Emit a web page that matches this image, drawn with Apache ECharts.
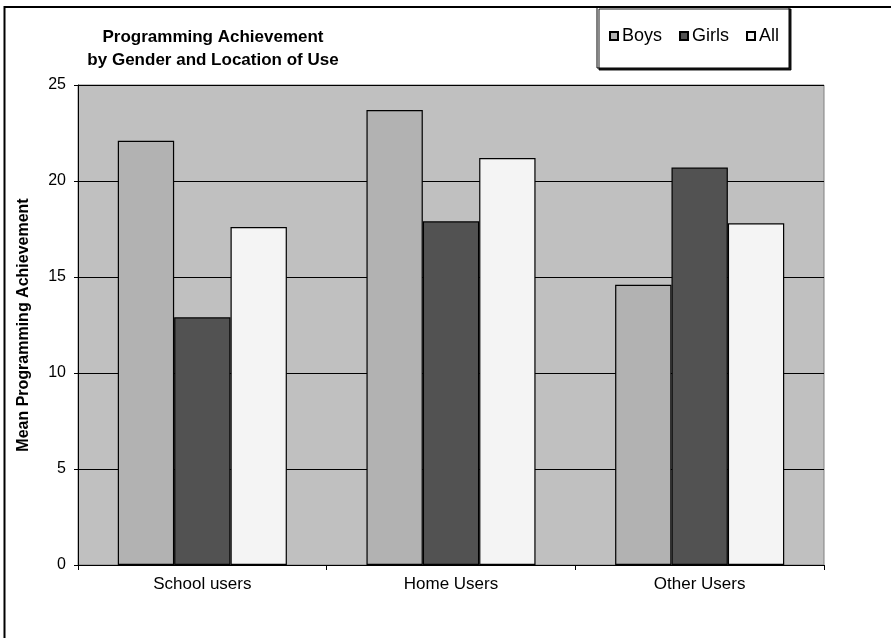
<!DOCTYPE html>
<html>
<head>
<meta charset="utf-8">
<script src="https://cdn.jsdelivr.net/npm/echarts@6/dist/echarts.min.js"></script>
<style>
html,body{margin:0;padding:0;background:#fff;}
#chart{width:891px;height:638px;}
</style>
</head>
<body>
<div id="chart"></div>
<script>
var categories = ["School users", "Home Users", "Other Users"];
var boys = [22.1, 23.7, 14.6];
var girls = [12.9, 17.9, 20.7];
var all = [17.6, 21.2, 17.8];
var seriesNames = ["Boys", "Girls", "All"];
var yTicks = [0, 5, 10, 15, 20, 25];

var chart = echarts.init(document.getElementById('chart'), null, {renderer: 'canvas'});
var font = '"Liberation Sans", Arial, sans-serif';
function bar(name, data, color) {
  return {
    name: name, type: 'bar', data: data,
    barGap: '0%', barCategoryGap: '32%',
    itemStyle: {color: color, borderColor: '#000', borderWidth: 1.2},
    emphasis: {disabled: true}
  };
}
chart.setOption({
  animation: false,
  backgroundColor: '#fff',
  textStyle: {fontFamily: font},
  graphic: [
    {type: 'polyline', shape: {points: [[4.5, 640], [4.5, 7], [892, 7]]},
     style: {stroke: '#000', lineWidth: 2, fill: null}, z: 100}
  ],
  title: {
    text: 'Programming Achievement\nby Gender and Location of Use',
    left: 208, top: 21, textAlign: 'center',
    textStyle: {fontFamily: font, fontSize: 17, fontWeight: 'bold', color: '#000', lineHeight: 23}
  },
  legend: {
    data: seriesNames,
    left: 597, top: 7,
    padding: [20, 10, 23, 12],
    itemWidth: 8, itemHeight: 8, itemGap: 17,
    icon: 'rect',
    backgroundColor: '#fff',
    borderColor: '#000', borderWidth: 1,
    shadowColor: 'rgba(0,0,0,0.9)', shadowOffsetX: 2, shadowOffsetY: 2, shadowBlur: 0,
    textStyle: {fontFamily: font, fontSize: 18, color: '#000', padding: [0, 0, 0, -1]}
  },
  grid: {
    left: 78, right: 67, top: 85, bottom: 73,
    show: true, backgroundColor: '#c0c0c0', borderColor: '#808080', borderWidth: 1
  },
  xAxis: {
    type: 'category', data: categories,
    axisLine: {lineStyle: {color: '#000', width: 1}},
    axisTick: {show: true, length: 5, lineStyle: {color: '#000'}},
    axisLabel: {fontFamily: font, fontSize: 17, color: '#000', margin: 11}
  },
  yAxis: {
    type: 'value', min: yTicks[0], max: yTicks[yTicks.length - 1], interval: 5,
    name: 'Mean Programming Achievement',
    nameLocation: 'middle', nameGap: 46, nameRotate: 90,
    nameTextStyle: {fontFamily: font, fontSize: 16, fontWeight: 'bold', color: '#000'},
    axisLine: {show: true, lineStyle: {color: '#000', width: 1}},
    axisTick: {show: true, length: 4, lineStyle: {color: '#000'}},
    axisLabel: {fontFamily: font, fontSize: 16, color: '#000', margin: 12},
    splitLine: {show: true, lineStyle: {color: '#000', width: 1.2}}
  },
  series: [
    bar(seriesNames[0], boys, '#b2b2b2'),
    bar(seriesNames[1], girls, '#525252'),
    bar(seriesNames[2], all, '#f4f4f4')
  ]
});
</script>
</body>
</html>
